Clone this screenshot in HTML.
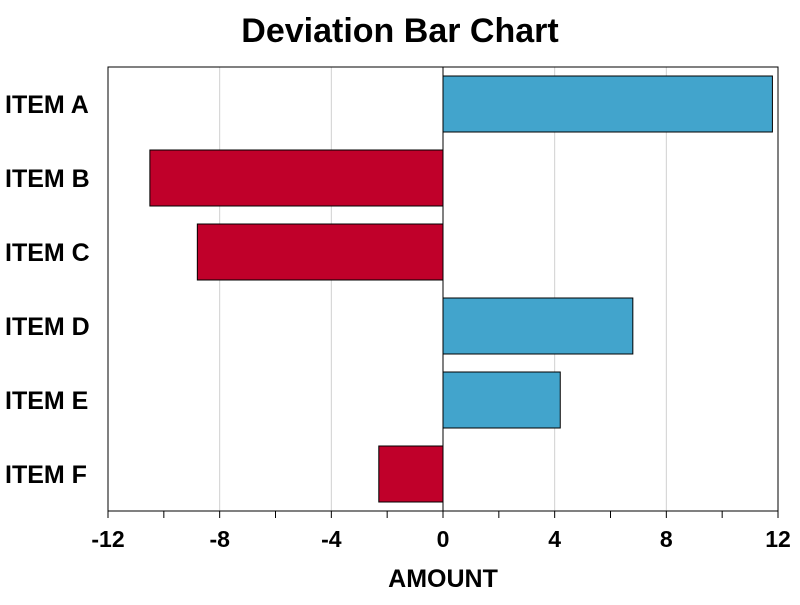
<!DOCTYPE html>
<html><head><meta charset="utf-8"><style>
body{margin:0;background:#fff;}
svg text{font-family:"Liberation Sans",sans-serif;font-weight:bold;fill:#000;}
</style></head><body>
<svg id="chart" width="800" height="600">
<text x="400" y="42" font-size="34" text-anchor="middle">Deviation Bar Chart</text>
<g id="grid"></g><g id="bars"></g><g id="axes"></g>
<text x="443" y="587" font-size="25" text-anchor="middle">AMOUNT</text>
</svg>
<script>
const categories=["ITEM A","ITEM B","ITEM C","ITEM D","ITEM E","ITEM F"];
const values=[11.8,-10.5,-8.8,6.8,4.2,-2.3];
const tickValues=[-12,-8,-4,0,4,8,12];
const minorTicks=[-10,-6,-2,2,6,10];
const L=108,R=778,T=67,B=511,xmin=-12,xmax=12;
const xs=v=>L+(v-xmin)/(xmax-xmin)*(778-L);
const band=(B-T)/categories.length;
const NS="http://www.w3.org/2000/svg";
function mk(tag,attrs,parent){const e=document.createElementNS(NS,tag);for(const k in attrs)e.setAttribute(k,attrs[k]);document.getElementById(parent).appendChild(e);return e;}
tickValues.forEach(v=>{if(v!==0&&v!==xmin&&v!==xmax){const g=mk('line',{x1:xs(v),x2:xs(v),y1:T,y2:B,stroke:'#d0d0d0','stroke-width':1},'grid');

}});
values.forEach((v,i)=>{const y=T+band*i+(band-56)/2;const x0=xs(0),x1=xs(v);
const r=mk('rect',{x:Math.min(x0,x1),y:y,width:Math.abs(x1-x0),height:56,fill:v>=0?'#42a4cc':'#c0002a',stroke:'#000','stroke-width':1},'bars');


const t=mk('text',{x:5,y:T+band*i+band/2+9,'font-size':25},'axes');t.textContent=categories[i];

});
const f=mk('rect',{x:L,y:T,width:R-L,height:B-T,fill:'none',stroke:'#000','stroke-width':1},'axes');


const z=mk('line',{x1:xs(0),x2:xs(0),y1:T,y2:B,stroke:'#000','stroke-width':1},'axes');


tickValues.concat(minorTicks).forEach(v=>{const l=mk('line',{x1:xs(v),x2:xs(v),y1:B,y2:B+7,stroke:'#000','stroke-width':1},'axes');

});
tickValues.forEach(v=>{const t=mk('text',{x:xs(v),y:B+36,'font-size':23,'text-anchor':'middle'},'axes');t.textContent=v;

});
</script>
</body></html>
